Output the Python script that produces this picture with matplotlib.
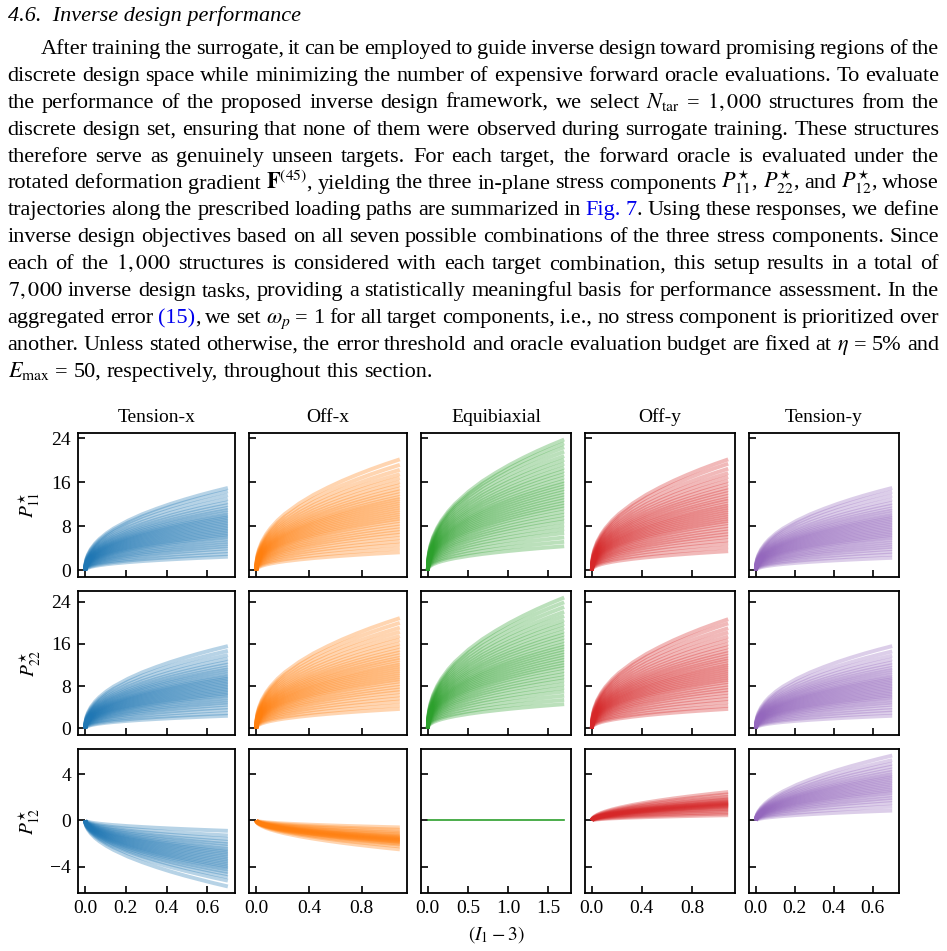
import matplotlib
matplotlib.use("Agg")
import numpy as np
import matplotlib.pyplot as plt

plt.rcParams["font.family"] = ["Liberation Serif", "DejaVu Serif"]
plt.rcParams["mathtext.fontset"] = "stix"

W, H = 947, 951

# ---------------- data ----------------
COLUMNS = ["Tension-x", "Off-x", "Equibiaxial", "Off-y", "Tension-y"]
COLORS = ["#1f77b4", "#ff7f0e", "#2ca02c", "#d62728", "#9467bd"]
X_MAX = [0.70, 1.09, 1.70, 1.09, 0.70]
X_TICKS = [[0, 0.2, 0.4, 0.6], [0, 0.4, 0.8], [0, 0.5, 1.0, 1.5], [0, 0.4, 0.8], [0, 0.2, 0.4, 0.6]]
ROW_LABELS = [r"$P^{\star}_{11}$", r"$P^{\star}_{22}$", r"$P^{\star}_{12}$"]
Y_TICKS = [[0, 8, 16, 24], [0, 8, 16, 24], [-4, 0, 4]]

# position along the loading path (fraction of the end value of I1-3)
PATH_FRAC = [0, 0.003, 0.01, 0.02, 0.04, 0.07, 0.1, 0.15, 0.2, 0.3, 0.4, 0.5, 0.6, 0.7, 0.8, 0.9, 1.0]
# normalised stress along the path (fraction of the end value)
SHAPE_NORMAL = [0, 0.087, 0.145, 0.193, 0.259, 0.327, 0.380, 0.451, 0.509, 0.603, 0.681, 0.747, 0.807, 0.861, 0.911, 0.957, 1.0]
SHAPE_SHEAR = [0, 0.055, 0.100, 0.141, 0.200, 0.265, 0.316, 0.387, 0.447, 0.548, 0.632, 0.707, 0.775, 0.837, 0.894, 0.949, 1.0]

# end values of the stress curves
p11_tension_x = [2.5, 3.0, 3.5, 4.0, 4.4, 4.8, 5.2, 5.6, 6.0, 6.3, 6.6, 6.9, 7.2, 7.5, 7.8, 8.1,
                 8.4, 8.7, 9.0, 9.3, 9.6, 9.9, 10.2, 10.6, 11.0, 11.4, 11.9, 12.4, 13.0, 13.7, 14.4, 15.0]
p11_off_x = [3.3, 4.0, 4.7, 5.3, 5.9, 6.5, 7.0, 7.5, 8.0, 8.5, 9.0, 9.4, 9.8, 10.2, 10.6, 11.0,
             11.4, 11.8, 12.2, 12.6, 13.0, 13.4, 13.9, 14.4, 14.9, 15.5, 16.1, 16.8, 17.5, 18.3, 19.2, 20.2]
p11_equibiaxial = [4.4, 5.2, 6.0, 6.8, 7.5, 8.2, 8.9, 9.5, 10.1, 10.7, 11.3, 11.8, 12.3, 12.8, 13.3, 13.8,
                   14.3, 14.8, 15.3, 15.8, 16.3, 16.9, 17.5, 18.1, 18.7, 19.4, 20.1, 20.8, 21.6, 22.4, 23.1, 23.8]
p11_off_y = [3.5, 4.2, 4.9, 5.5, 6.1, 6.6, 7.1, 7.6, 8.1, 8.6, 9.0, 9.4, 9.8, 10.2, 10.6, 11.0,
             11.4, 11.8, 12.2, 12.7, 13.1, 13.6, 14.1, 14.6, 15.1, 15.7, 16.3, 17.0, 17.7, 18.5, 19.4, 20.2]
p11_tension_y = [2.3, 2.9, 3.4, 3.9, 4.3, 4.7, 5.1, 5.5, 5.9, 6.2, 6.5, 6.8, 7.1, 7.4, 7.7, 8.0,
                 8.3, 8.6, 8.9, 9.2, 9.5, 9.8, 10.1, 10.5, 10.9, 11.3, 11.8, 12.3, 12.9, 13.6, 14.3, 15.0]

p22_tension_x = [2.4, 2.9, 3.5, 4.0, 4.5, 4.9, 5.3, 5.7, 6.1, 6.4, 6.7, 7.0, 7.3, 7.6, 7.9, 8.2,
                 8.5, 8.8, 9.1, 9.4, 9.7, 10.0, 10.4, 10.8, 11.2, 11.6, 12.1, 12.6, 13.2, 13.9, 14.7, 15.6]
p22_off_x = [3.7, 4.4, 5.1, 5.7, 6.3, 6.9, 7.4, 7.9, 8.4, 8.9, 9.3, 9.7, 10.1, 10.5, 10.9, 11.3,
             11.7, 12.1, 12.5, 13.0, 13.4, 13.9, 14.4, 14.9, 15.5, 16.1, 16.8, 17.5, 18.3, 19.1, 20.0, 20.9]
p22_equibiaxial = [4.6, 5.4, 6.2, 7.0, 7.7, 8.4, 9.1, 9.7, 10.3, 10.9, 11.5, 12.0, 12.5, 13.0, 13.5, 14.0,
                   14.5, 15.0, 15.5, 16.0, 16.6, 17.2, 17.8, 18.4, 19.1, 19.8, 20.5, 21.3, 22.1, 23.0, 23.9, 24.8]
p22_off_y = [3.7, 4.3, 5.0, 5.6, 6.2, 6.8, 7.3, 7.8, 8.3, 8.8, 9.2, 9.6, 10.0, 10.4, 10.8, 11.2,
             11.6, 12.0, 12.4, 12.9, 13.3, 13.8, 14.3, 14.8, 15.4, 16.0, 16.7, 17.4, 18.2, 19.0, 19.9, 20.7]
p22_tension_y = [2.4, 3.0, 3.5, 4.0, 4.5, 4.9, 5.3, 5.7, 6.0, 6.3, 6.6, 6.9, 7.2, 7.5, 7.8, 8.1,
                 8.4, 8.7, 9.0, 9.3, 9.6, 9.9, 10.3, 10.7, 11.1, 11.5, 12.0, 12.5, 13.1, 13.8, 14.6, 15.6]

p12_tension_x = [-0.9, -1.3, -1.6, -1.85, -2.05, -2.25, -2.45, -2.6, -2.75, -2.9, -3.05, -3.2,
                 -3.35, -3.5, -3.65, -3.8, -3.95, -4.1, -4.25, -4.45, -4.65, -4.9, -5.2, -5.7]
p12_off_x = [-0.6, -0.8, -0.95, -1.1, -1.2, -1.3, -1.4, -1.45, -1.5, -1.55, -1.6, -1.65, -1.7,
             -1.75, -1.8, -1.85, -1.9, -2.0, -2.1, -2.25, -2.5]
p12_equibiaxial = [0.0]
p12_off_y = [0.45, 0.6, 0.75, 0.9, 1.0, 1.1, 1.2, 1.25, 1.3, 1.35, 1.4, 1.45, 1.5, 1.55, 1.6,
             1.7, 1.8, 1.9, 2.05, 2.25, 2.45]
p12_tension_y = [0.85, 1.2, 1.5, 1.75, 1.95, 2.15, 2.35, 2.5, 2.65, 2.8, 2.95, 3.1, 3.25, 3.4,
                 3.55, 3.7, 3.85, 4.0, 4.2, 4.4, 4.65, 4.9, 5.2, 5.6]

END_VALUES = [
    [p11_tension_x, p11_off_x, p11_equibiaxial, p11_off_y, p11_tension_y],
    [p22_tension_x, p22_off_x, p22_equibiaxial, p22_off_y, p22_tension_y],
    [p12_tension_x, p12_off_x, p12_equibiaxial, p12_off_y, p12_tension_y],
]
ROW_SHAPES = [SHAPE_NORMAL, SHAPE_NORMAL, SHAPE_SHEAR]

# paragraph text, @...@ marks link-coloured segments
TITLE = "4.6.  Inverse design performance"
LINES = [
    "After training the surrogate, it can be employed to guide inverse design toward promising regions of the",
    "discrete design space while minimizing the number of expensive forward oracle evaluations. To evaluate",
    r"the performance of the proposed inverse design framework, we select $N_{\mathrm{tar}}$ = $1,000$ structures from the",
    "discrete design set, ensuring that none of them were observed during surrogate training. These structures",
    "therefore serve as genuinely unseen targets. For each target, the forward oracle is evaluated under the",
    r"rotated deformation gradient $\mathbf{F}^{(45)}$, yielding the three in-plane stress components $P^{\star}_{11}$, $P^{\star}_{22}$, and $P^{\star}_{12}$, whose",
    "trajectories along the prescribed loading paths are summarized in @Fig.@ @7@. Using these responses, we define",
    "inverse design objectives based on all seven possible combinations of the three stress components. Since",
    r"each of the $1,000$ structures is considered with each target combination, this setup results in a total of",
    r"$7,000$ inverse design tasks, providing a statistically meaningful basis for performance assessment. In the",
    r"aggregated error @(15)@, we set $\omega_p$ = 1 for all target components, i.e., no stress component is prioritized over",
    r"another. Unless stated otherwise, the error threshold and oracle evaluation budget are fixed at $\eta$ = 5% and",
    r"$E_{\mathrm{max}}$ = 50, respectively, throughout this section.",
]

# ---------------- figure ----------------
fig = plt.figure(figsize=(W / 100, H / 100), dpi=100)
renderer = fig.canvas.get_renderer()

TEXT_SIZE = 16
LEFT, RIGHT = 7.5, 939.0
FIRST_BASE, LINE_STEP = 54.0, 26.9

fig.text(LEFT / W, 1 - 21 / H, TITLE, fontsize=TEXT_SIZE, style="italic", va="baseline", ha="left")

for i, line in enumerate(LINES):
    base = FIRST_BASE + i * LINE_STEP
    words = []
    for word in line.split(" "):
        parts = word.split("@")
        segs = []
        for k, p in enumerate(parts):
            if p == "":
                continue
            t = fig.text(0, 1 - base / H, p, fontsize=TEXT_SIZE, va="baseline", ha="left",
                         color="#0000ee" if k % 2 == 1 else "black")
            segs.append((t, t.get_window_extent(renderer).width))
        words.append(segs)
    widths = [sum(w for _, w in segs) for segs in words]
    start = LEFT + (33 if i == 0 else 0)
    if i == len(LINES) - 1:
        gap = TEXT_SIZE * 0.25 * 100 / 72
    else:
        gap = (RIGHT - start - sum(widths)) / (len(words) - 1)
    x = start
    for segs, wsum in zip(words, widths):
        xx = x
        for t, w in segs:
            t.set_x(xx / W)
            xx += w
        x += wsum + gap

# grid of panels
col_left = [78, 249, 421, 585, 749]
col_width = [157, 158, 150, 150, 150]
row_top = [433, 591, 749]
row_height = 144

axes = [[None] * 5 for _ in range(3)]
for r in range(3):
    for c in range(5):
        rect = [col_left[c] / W, 1 - (row_top[r] + row_height) / H, col_width[c] / W, row_height / H]
        ax = fig.add_axes(rect,
                          sharex=axes[0][c] if r > 0 else None,
                          sharey=axes[r][0] if c > 0 else None)
        axes[r][c] = ax
        x = np.array(PATH_FRAC) * X_MAX[c]
        shape = np.array(ROW_SHAPES[r])
        ends = END_VALUES[r][c]
        if len(ends) == 1:
            ax.plot(x, ends[0] * shape, color=COLORS[c], lw=1.2)
        else:
            for v in ends:
                ax.plot(x, v * shape, color=COLORS[c], lw=2.8, alpha=0.32,
                        solid_capstyle="butt")
        ax.set_xticks(X_TICKS[c])
        ax.set_yticks(Y_TICKS[r])
        ax.tick_params(direction="in", length=5, width=1.2, top=False, right=False,
                       labelsize=14, pad=5)
        for s in ax.spines.values():
            s.set_linewidth(1.3)
        if c > 0:
            ax.tick_params(labelleft=False)
        if r < 2:
            ax.tick_params(labelbottom=False)
        if r == 0:
            ax.set_title(COLUMNS[c], fontsize=14, pad=8)

for c in range(5):
    axes[2][c].xaxis.set_major_formatter(plt.FormatStrFormatter("%.1f"))

for r in range(3):
    yc = row_top[r] + row_height / 2
    fig.text(29 / W, 1 - yc / H, ROW_LABELS[r], fontsize=14, rotation=90, ha="center", va="center")

fig.text(496 / W, 1 - 935 / H, r"$(I_1 - 3)$", fontsize=14, ha="center", va="center")

fig.savefig("out.png", dpi=100)
